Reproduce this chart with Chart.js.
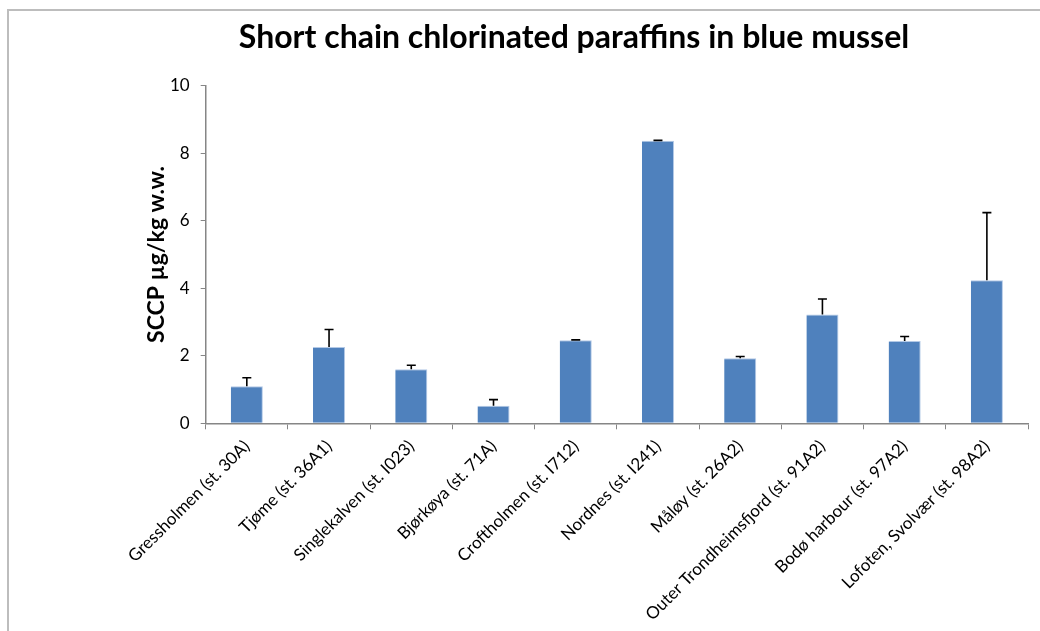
<!DOCTYPE html>
<html>
<head>
<meta charset="utf-8">
<script src="https://cdn.jsdelivr.net/npm/chart.js@4/dist/chart.umd.min.js"></script>
<style>
  html, body { margin: 0; padding: 0; background: #fff; }
  #wrap { width: 1040px; height: 631px; position: relative; }
</style>
</head>
<body>
<div id="wrap"><canvas id="sccp"></canvas></div>
<script>
// stations and SCCP concentrations (mean and standard deviation)
var stations = [
  'Gressholmen (st. 30A)',
  'Tjøme (st. 36A1)',
  'Singlekalven (st. I023)',
  'Bjørkøya (st. 71A)',
  'Croftholmen (st. I712)',
  'Nordnes (st. I241)',
  'Måløy (st. 26A2)',
  'Outer Trondheimsfjord (st. 91A2)',
  'Bodø harbour (st. 97A2)',
  'Lofoten, Svolvær (st. 98A2)'
];
var meanValues = [1.10, 2.26, 1.60, 0.52, 2.46, 8.37, 1.93, 3.22, 2.44, 4.24];
var sdValues   = [0.25, 0.52, 0.12, 0.18, 0.01, 0.01, 0.05, 0.46, 0.13, 2.00];
var yTicks = [0, 2, 4, 6, 8, 10];
var chartTitle = 'Short chain chlorinated paraffins in blue mussel';

var fontFam = 'Lato, "Open Sans", sans-serif';
var axisGrey = '#868686';

// frame round the chart plus the heading
var framePlugin = {
  id: 'frame',
  beforeDraw: function (chart) {
    var c = chart.ctx;
    c.save();
    c.strokeStyle = '#bdbdbd';
    c.lineWidth = 2;
    c.beginPath();
    c.moveTo(8, chart.height + 5);
    c.lineTo(8, 10);
    c.lineTo(chart.width + 5, 10);
    c.stroke();

    c.fillStyle = '#000';
    c.font = 'bold 32px ' + fontFam;
    c.textAlign = 'center';
    c.textBaseline = 'alphabetic';
    c.fillText(chartTitle, 574, 48);
    c.restore();
  }
};

// upper error bars (mean + sd) with a small cap
var errorBars = {
  id: 'errorBars',
  afterDatasetsDraw: function (chart) {
    var c = chart.ctx;
    var yScale = chart.scales.y;
    var meta = chart.getDatasetMeta(0);
    c.save();
    c.strokeStyle = '#000';
    c.lineWidth = 1.6;
    meta.data.forEach(function (bar, i) {
      var top = yScale.getPixelForValue(meanValues[i] + sdValues[i]);
      var base = yScale.getPixelForValue(meanValues[i]);
      c.beginPath();
      c.moveTo(bar.x, base);
      c.lineTo(bar.x, top);
      c.moveTo(bar.x - 4.5, top);
      c.lineTo(bar.x + 4.5, top);
      c.stroke();
    });
    c.restore();
  }
};

new Chart(document.getElementById('sccp'), {
  type: 'bar',
  data: {
    labels: stations,
    datasets: [{
      data: meanValues,
      backgroundColor: '#4f81bd',
      borderColor: '#b3c9e6',
      borderWidth: { top: 1, right: 1, left: 0, bottom: 0 },
      barPercentage: 0.39,
      categoryPercentage: 1
    }]
  },
  options: {
    responsive: true,
    maintainAspectRatio: false,
    animation: false,
    layout: { padding: { top: 85.7, right: 12, left: 0, bottom: 0 } },
    plugins: {
      legend: { display: false },
      tooltip: { enabled: false },
      title: { display: false }
    },
    scales: {
      x: {
        offset: true,
        grid: {
          offset: true,
          drawOnChartArea: false,
          drawTicks: true,
          tickLength: 6,
          color: axisGrey
        },
        border: { display: true, color: axisGrey, width: 1.5 },
        ticks: {
          color: '#000',
          font: { family: fontFam, size: 17 },
          minRotation: 45,
          maxRotation: 45,
          autoSkip: false,
          padding: 7
        },
        afterFit: function (scale) { scale.height = 207.7; }
      },
      y: {
        min: 0,
        max: 10,
        afterBuildTicks: function (scale) {
          scale.ticks = yTicks.map(function (v) { return { value: v }; });
        },
        grid: {
          drawOnChartArea: false,
          drawTicks: true,
          tickLength: 5,
          color: axisGrey
        },
        border: { display: true, color: axisGrey, width: 1.5 },
        ticks: {
          color: '#000',
          font: { family: fontFam, size: 17 },
          padding: 11
        },
        title: {
          display: true,
          text: 'SCCP µg/kg w.w.',
          color: '#000',
          font: { family: fontFam, size: 23, weight: 'bold' },
          padding: { top: 143, bottom: 0 }
        },
        afterFit: function (scale) { scale.width = 205.7; }
      }
    }
  },
  plugins: [framePlugin, errorBars]
});
</script>
</body>
</html>
